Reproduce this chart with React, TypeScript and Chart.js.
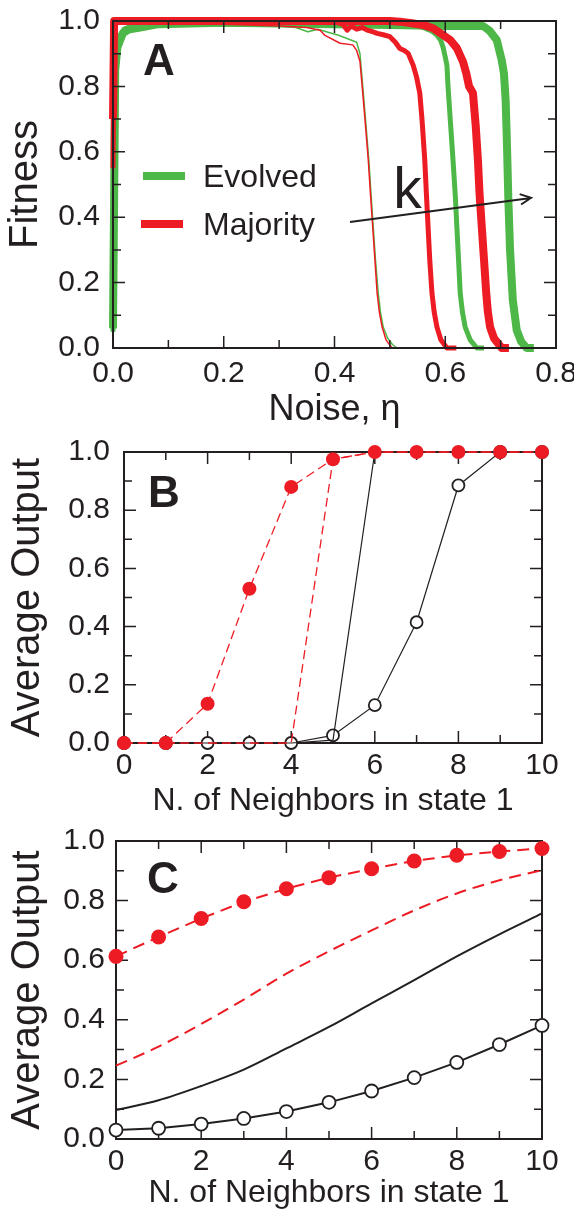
import React, { useEffect, useRef } from 'react';
import { Chart, registerables } from 'chart.js';

Chart.register(...registerables);

const RED = '#ED1C24';
const GREEN = '#4DB848';
const INK = '#231F20';
const FAMILY = '"Liberation Sans", Arial, Helvetica, sans-serif';

// ---------- Panel A : fitness vs noise ----------
const noiseTicks = [0, 0.1, 0.2, 0.3, 0.4, 0.5, 0.6, 0.7, 0.8];
const noiseTickLabels = ['0.0', '', '0.2', '', '0.4', '', '0.6', '', '0.8'];
const unitTicks = [0, 0.1, 0.2, 0.3, 0.4, 0.5, 0.6, 0.7, 0.8, 0.9, 1.0];
const unitTickLabels = ['0.0', '', '0.2', '', '0.4', '', '0.6', '', '0.8', '', '1.0'];

// evolved, small k (thin green)
const noiseEvolvedK1 = [0, 0.003, 0.008, 0.02, 0.05, 0.15, 0.25, 0.3, 0.33, 0.352, 0.37, 0.39, 0.406, 0.425, 0.44, 0.446, 0.45, 0.455, 0.462, 0.466, 0.47, 0.474, 0.479, 0.483, 0.488, 0.496, 0.505, 0.513, 0.53];
const fitEvolvedK1 = [0.05, 0.85, 0.95, 0.98, 0.99, 0.99, 0.988, 0.985, 0.98, 0.967, 0.975, 0.965, 0.957, 0.945, 0.935, 0.9, 0.82, 0.72, 0.575, 0.47, 0.37, 0.27, 0.168, 0.11, 0.064, 0.03, 0.01, 0, 0];
// majority, small k (thin red)
const noiseMajorityK1 = [0, 0.002, 0.005, 0.05, 0.2, 0.3, 0.35, 0.374, 0.382, 0.41, 0.433, 0.44, 0.446, 0.45, 0.455, 0.461, 0.465, 0.469, 0.473, 0.477, 0.481, 0.486, 0.493, 0.504, 0.52];
const fitMajorityK1 = [0.38, 0.98, 1.0, 0.995, 0.99, 0.985, 0.98, 0.972, 0.957, 0.932, 0.927, 0.91, 0.876, 0.8, 0.7, 0.575, 0.47, 0.37, 0.27, 0.168, 0.11, 0.064, 0.025, 0, 0];
// majority, medium k (medium red)
const noiseMajorityK2 = [0, 0.002, 0.01, 0.2, 0.4, 0.415, 0.423, 0.43, 0.44, 0.45, 0.459, 0.468, 0.477, 0.488, 0.5, 0.51, 0.518, 0.526, 0.533, 0.542, 0.548, 0.554, 0.558, 0.563, 0.566, 0.569, 0.572, 0.576, 0.58, 0.585, 0.592, 0.603, 0.62];
const fitMajorityK2 = [0.55, 0.99, 1.0, 1.0, 0.998, 0.99, 0.972, 0.985, 0.975, 0.98, 0.972, 0.968, 0.962, 0.958, 0.952, 0.935, 0.916, 0.91, 0.901, 0.865, 0.83, 0.78, 0.7, 0.575, 0.47, 0.37, 0.27, 0.168, 0.11, 0.064, 0.025, 0, 0];
// evolved, medium k (medium green)
const noiseEvolvedK2 = [0, 0.004, 0.01, 0.02, 0.04, 0.08, 0.3, 0.5, 0.54, 0.56, 0.575, 0.585, 0.592, 0.596, 0.6, 0.603, 0.605, 0.609, 0.614, 0.618, 0.621, 0.624, 0.627, 0.631, 0.636, 0.645, 0.657, 0.67];
const fitEvolvedK2 = [0.05, 0.88, 0.95, 0.975, 0.99, 0.998, 0.998, 0.995, 0.99, 0.98, 0.97, 0.957, 0.94, 0.92, 0.89, 0.865, 0.8, 0.7, 0.575, 0.47, 0.37, 0.27, 0.168, 0.11, 0.064, 0.025, 0, 0];
// majority, large k (thick red)
const noiseMajorityK3 = [0, 0.002, 0.5, 0.518, 0.54, 0.56, 0.578, 0.596, 0.609, 0.621, 0.632, 0.638, 0.643, 0.65, 0.655, 0.659, 0.662, 0.666, 0.67, 0.674, 0.677, 0.681, 0.688, 0.702, 0.715];
const fitMajorityK3 = [0.7, 1.0, 1.0, 0.998, 0.993, 0.988, 0.978, 0.957, 0.942, 0.917, 0.876, 0.84, 0.8, 0.78, 0.68, 0.575, 0.47, 0.37, 0.27, 0.168, 0.11, 0.064, 0.03, 0, 0];
// evolved, large k (thick green)
const noiseEvolvedK3 = [0, 0.004, 0.008, 0.018, 0.03, 0.049, 0.08, 0.2, 0.5, 0.6, 0.65, 0.668, 0.68, 0.693, 0.702, 0.706, 0.709, 0.711, 0.714, 0.717, 0.722, 0.729, 0.737, 0.747, 0.76];
const fitEvolvedK3 = [0.06, 0.85, 0.92, 0.963, 0.975, 0.98, 0.99, 0.995, 0.988, 0.985, 0.985, 0.985, 0.97, 0.942, 0.88, 0.84, 0.76, 0.65, 0.453, 0.3, 0.147, 0.055, 0.02, 0, 0];

// "k" arrow annotation (noise, fitness)
const kArrowNoise = [0.428, 0.755];
const kArrowFitness = [0.385, 0.459];
const kLabelAt = [0.506, 0.428];

// ---------- Panels B and C : average output vs neighbours ----------
const neighbors = [0, 1, 2, 3, 4, 5, 6, 7, 8, 9, 10];
const neighborTickLabels = ['0', '', '2', '', '4', '', '6', '', '8', '', '10'];

const bRedDots = [0, 0, 0.135, 0.53, 0.88, 0.975, 1, 1, 1, 1, 1];
const bRedDashed = [0, 0, 0, 0, 0, 0.975, 1, 1, 1, 1, 1];
const bBlackLine = [0, 0, 0, 0, 0, 0.01, 1, 1, 1, 1, 1];
const bOpenCircles = [0, 0, 0, 0, 0, 0.026, 0.13, 0.415, 0.885, 1, 1];

const cRedDots = [0.613, 0.678, 0.74, 0.796, 0.84, 0.877, 0.907, 0.933, 0.952, 0.965, 0.975];
const cRedDashed = [0.246, 0.31, 0.386, 0.468, 0.555, 0.63, 0.7, 0.767, 0.824, 0.868, 0.902];
const cBlackLine = [0.097, 0.13, 0.178, 0.233, 0.304, 0.376, 0.455, 0.533, 0.613, 0.687, 0.757];
const cOpenCircles = [0.03, 0.036, 0.05, 0.069, 0.092, 0.123, 0.161, 0.206, 0.257, 0.317, 0.381];

const pts = (xs: number[], ys: number[]) => xs.map((x, i) => ({ x, y: ys[i] }));

function xAxis(min: number, max: number, ticks: number[], labels: string[], title: string, titleSize: number, titlePad: number, labelPad: number, height: number) {
  return {
    type: 'linear',
    position: 'bottom',
    min,
    max,
    grid: { display: false, drawTicks: false },
    border: { display: false },
    afterBuildTicks: (s: any) => {
      s.ticks = ticks.map((v) => ({ value: v }));
    },
    ticks: {
      autoSkip: false,
      maxRotation: 0,
      minRotation: 0,
      padding: labelPad,
      color: INK,
      font: { family: FAMILY, size: 30 },
      callback: (_v: any, i: number) => labels[i],
    },
    title: { display: true, text: title, color: INK, font: { family: FAMILY, size: titleSize }, padding: { top: 0, bottom: titlePad } },
    afterFit: (s: any) => {
      s.height = height;
      s.paddingLeft = 0;
      s.paddingRight = 0;
    },
  };
}

function yAxis(title: string, labelPad: number, titlePad: number, width: number) {
  return {
    type: 'linear',
    position: 'left',
    min: 0,
    max: 1,
    grid: { display: false, drawTicks: false },
    border: { display: false },
    afterBuildTicks: (s: any) => {
      s.ticks = unitTicks.map((v) => ({ value: v }));
    },
    ticks: {
      autoSkip: false,
      padding: labelPad,
      color: INK,
      font: { family: FAMILY, size: 30 },
      callback: (_v: any, i: number) => unitTickLabels[i],
    },
    title: { display: true, text: title, color: INK, font: { family: FAMILY, size: 40 }, padding: { top: titlePad, bottom: 0 } },
    afterFit: (s: any) => {
      s.width = width;
      s.paddingTop = 0;
      s.paddingBottom = 0;
    },
  };
}

function drawFrame(chart: any) {
  const { ctx, chartArea } = chart;
  const { left, right, top, bottom } = chartArea;
  const xs = chart.scales.x;
  const ys = chart.scales.y;
  ctx.save();
  ctx.strokeStyle = INK;
  ctx.lineWidth = 1.5;
  ctx.beginPath();
  xs.ticks.forEach((t: any) => {
    const px = xs.getPixelForValue(t.value);
    const len = t.label ? 12 : 8;
    ctx.moveTo(px, bottom);
    ctx.lineTo(px, bottom - len);
    ctx.moveTo(px, top);
    ctx.lineTo(px, top + len);
  });
  ys.ticks.forEach((t: any) => {
    const py = ys.getPixelForValue(t.value);
    const len = t.label ? 12 : 8;
    ctx.moveTo(left, py);
    ctx.lineTo(left + len, py);
    ctx.moveTo(right, py);
    ctx.lineTo(right - len, py);
  });
  ctx.stroke();
  ctx.lineWidth = 2;
  ctx.strokeRect(left, top, right - left, bottom - top);
  ctx.restore();
}

function panelLetter(chart: any, letter: string, dx: number, dy: number) {
  const { ctx, chartArea } = chart;
  ctx.save();
  ctx.fillStyle = INK;
  ctx.font = `bold 44px ${FAMILY}`;
  ctx.textAlign = 'left';
  ctx.textBaseline = 'alphabetic';
  ctx.fillText(letter, chartArea.left + dx, chartArea.top + dy);
  ctx.restore();
}

function curve(xs: number[], ys: number[], color: string, width: number) {
  return {
    data: pts(xs, ys),
    showLine: true,
    borderColor: color,
    backgroundColor: color,
    borderWidth: width,
    pointRadius: 0,
    tension: 0,
    borderJoinStyle: 'round',
    borderCapStyle: 'butt',
    clip: false,
  };
}

function configA() {
  return {
    type: 'scatter',
    data: {
      datasets: [
        curve(noiseMajorityK1, fitMajorityK1, RED, 1.5),
        curve(noiseMajorityK2, fitMajorityK2, RED, 5),
        curve(noiseMajorityK3, fitMajorityK3, RED, 8),
        curve(noiseEvolvedK1, fitEvolvedK1, GREEN, 1.5),
        curve(noiseEvolvedK2, fitEvolvedK2, GREEN, 5),
        curve(noiseEvolvedK3, fitEvolvedK3, GREEN, 8),
      ],
    },
    options: {
      animation: false,
      responsive: false,
      devicePixelRatio: 1,
      layout: { padding: { left: 0, right: 18, top: 21, bottom: 0 } },
      plugins: { legend: { display: false }, tooltip: { enabled: false } },
      scales: {
        x: xAxis(0, 0.8, noiseTicks, noiseTickLabels, 'Noise, η', 36, 8, 8, 92),
        y: yAxis('Fitness', 13, 2, 113),
      },
    },
    plugins: [
      {
        id: 'annotA',
        afterDatasetsDraw(chart: any) {
          drawFrame(chart);
          panelLetter(chart, 'A', 30, 54);
          const { ctx, chartArea } = chart;
          const xs = chart.scales.x;
          const ys = chart.scales.y;
          const L = chartArea.left;
          const T = chartArea.top;
          ctx.save();
          // legend
          ctx.lineWidth = 8;
          ctx.strokeStyle = GREEN;
          ctx.beginPath();
          ctx.moveTo(L + 30, T + 155);
          ctx.lineTo(L + 72, T + 155);
          ctx.stroke();
          ctx.strokeStyle = RED;
          ctx.beginPath();
          ctx.moveTo(L + 28, T + 203);
          ctx.lineTo(L + 70, T + 203);
          ctx.stroke();
          ctx.fillStyle = INK;
          ctx.font = `32px ${FAMILY}`;
          ctx.textAlign = 'left';
          ctx.textBaseline = 'alphabetic';
          ctx.fillText('Evolved', L + 90, T + 166);
          ctx.fillText('Majority', L + 90, T + 214);
          // k arrow
          const x0 = xs.getPixelForValue(kArrowNoise[0]);
          const y0 = ys.getPixelForValue(kArrowFitness[0]);
          const x1 = xs.getPixelForValue(kArrowNoise[1]);
          const y1 = ys.getPixelForValue(kArrowFitness[1]);
          ctx.strokeStyle = INK;
          ctx.lineWidth = 2;
          ctx.beginPath();
          ctx.moveTo(x0, y0);
          ctx.lineTo(x1, y1);
          const ang = Math.atan2(y1 - y0, x1 - x0);
          const hl = 12;
          const ha = 0.45;
          ctx.moveTo(x1 - hl * Math.cos(ang - ha), y1 - hl * Math.sin(ang - ha));
          ctx.lineTo(x1, y1);
          ctx.lineTo(x1 - hl * Math.cos(ang + ha), y1 - hl * Math.sin(ang + ha));
          ctx.stroke();
          ctx.font = `57px ${FAMILY}`;
          ctx.fillText('k', xs.getPixelForValue(kLabelAt[0]), ys.getPixelForValue(kLabelAt[1]));
          ctx.restore();
        },
      },
    ],
  };
}

function markerSet(ys: number[], filled: boolean, radius: number, lineWidth: number, dash: number[]) {
  return {
    data: pts(neighbors, ys),
    showLine: true,
    borderColor: filled ? RED : INK,
    borderWidth: lineWidth,
    borderDash: dash,
    pointRadius: radius,
    pointBorderWidth: filled ? 0 : 1.8,
    pointBorderColor: filled ? RED : INK,
    pointBackgroundColor: filled ? RED : '#ffffff',
    tension: 0,
    clip: false,
  };
}

function lineSet(ys: number[], color: string, lineWidth: number, dash: number[], tension: number) {
  return {
    data: pts(neighbors, ys),
    showLine: true,
    borderColor: color,
    borderWidth: lineWidth,
    borderDash: dash,
    pointRadius: 0,
    tension,
    cubicInterpolationMode: tension > 0 ? 'monotone' : 'default',
    clip: false,
  };
}

function configNeighbors(letter: string, sets: any[], opts: any) {
  return {
    type: 'scatter',
    data: { datasets: sets },
    options: {
      animation: false,
      responsive: false,
      devicePixelRatio: 1,
      layout: { padding: { left: 0, right: opts.right, top: opts.top, bottom: 0 } },
      plugins: { legend: { display: false }, tooltip: { enabled: false } },
      scales: {
        x: xAxis(0, 10, neighbors, neighborTickLabels, 'N. of Neighbors in state 1', 32, opts.titlePad, opts.labelPad, opts.xHeight),
        y: yAxis('Average Output', opts.yLabelPad, 3.5, opts.yWidth),
      },
    },
    plugins: [
      {
        id: 'frame' + letter,
        beforeDatasetsDraw(chart: any) {
          drawFrame(chart);
        },
        afterDatasetsDraw(chart: any) {
          panelLetter(chart, letter, opts.letterDx, opts.letterDy);
        },
      },
    ],
  };
}

function configB() {
  return configNeighbors(
    'B',
    [
      markerSet(bRedDots, true, 7, 1.3, [9, 5]),
      lineSet(bRedDashed, RED, 1.3, [9, 5], 0),
      lineSet(bBlackLine, INK, 1.2, [], 0),
      markerSet(bOpenCircles, false, 6, 1.2, []),
    ],
    { right: 32, top: 12, titlePad: 5, labelPad: 5, xHeight: 82, yLabelPad: 14, yWidth: 124, letterDx: 24, letterDy: 55 }
  );
}

function configC() {
  return configNeighbors(
    'C',
    [
      markerSet(cRedDots, true, 7.5, 2, [12, 7]),
      lineSet(cRedDashed, RED, 2, [12, 7], 0.4),
      lineSet(cBlackLine, INK, 2, [], 0.4),
      markerSet(cOpenCircles, false, 6.5, 2, []),
    ],
    { right: 32, top: 16, titlePad: 0, labelPad: 5, xHeight: 73, yLabelPad: 11, yWidth: 116, letterDx: 31, letterDy: 52 }
  );
}

function ChartCanvas({ top, height, build }: { top: number; height: number; build: () => any }) {
  const ref = useRef<HTMLCanvasElement | null>(null);
  useEffect(() => {
    if (!ref.current) return;
    const chart = new Chart(ref.current, build());
    return () => chart.destroy();
  }, []);
  return (
    <canvas
      ref={ref}
      width={574}
      height={height}
      style={{ position: 'absolute', left: 0, top, width: 574, height }}
    />
  );
}

export default function App() {
  return (
    <div style={{ position: 'absolute', left: 0, top: 0, width: 574, height: 1212, background: '#ffffff', overflow: 'hidden' }}>
      <ChartCanvas top={0} height={440} build={configA} />
      <ChartCanvas top={440} height={385} build={configB} />
      <ChartCanvas top={825} height={387} build={configC} />
    </div>
  );
}
